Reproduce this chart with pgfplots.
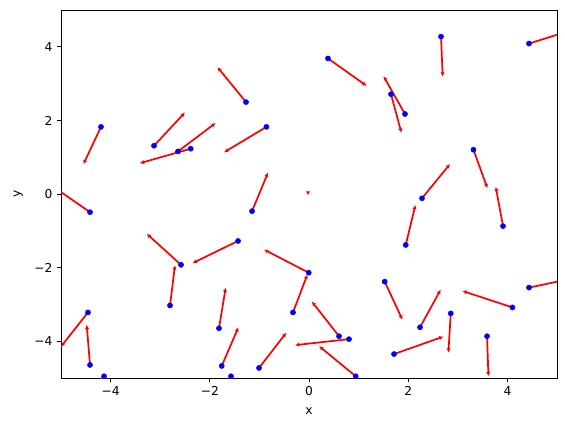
\documentclass[border=0pt]{standalone}
\usepackage{fontspec}
\setmainfont{DejaVu Sans}
\usepackage{pgfplots}
\usepackage{pgfplotstable}
\pgfplotsset{compat=1.18}
\usetikzlibrary{arrows.meta}
\pgfplotstableread{
x y u v
-4.194 1.825 -0.355 -1.016
-3.125 1.313 0.625 0.905
-2.641 1.159 0.760 0.774
-2.385 1.232 -1.028 -0.396
-1.270 2.499 -0.577 0.951
0.383 3.685 0.780 -0.747
-0.859 1.825 -0.855 -0.693
2.661 4.278 0.034 -1.089
4.435 4.089 1.004 0.426
1.653 2.714 0.210 -1.051
1.935 2.175 -0.435 1.032
3.315 1.205 0.282 -1.051
-4.415 -0.493 -0.796 0.744
-2.581 -1.922 -0.691 0.844
-1.431 -1.275 -0.919 -0.604
-2.802 -3.027 0.100 1.094
-4.456 -3.216 -0.550 -0.940
-4.415 -4.644 -0.067 1.094
-4.133 -4.951 -0.600 -0.900
-1.815 -3.647 0.135 1.105
-1.760 -4.671 0.337 1.051
-1.149 -0.466 0.323 1.051
-0.006 -2.137 -0.901 0.628
-0.323 -3.216 0.290 1.030
0.605 -3.863 -0.550 0.944
0.806 -3.943 -1.089 -0.162
0.942 -4.951 -0.740 0.819
-1.008 -4.725 0.552 0.960
-1.573 -4.951 -0.300 -1.050
1.526 -2.380 0.357 -1.035
2.278 -0.116 0.565 0.933
1.950 -1.383 0.195 1.087
3.911 -0.871 -0.147 1.068
4.435 -2.542 1.049 0.297
4.101 -3.081 -1.008 0.448
2.238 -3.620 0.417 1.024
2.857 -3.243 -0.047 -1.070
1.714 -4.348 0.996 0.475
3.589 -3.863 0.028 -1.089
}\pts
\pgfplotstableread{
x y u v
-0.02 0.06 0.0 -0.09
}\tinyarrow
\begin{document}
\begin{tikzpicture}
\begin{axis}[
  scale only axis,
  width=404.5pt, height=300.1pt,
  xmin=-5, xmax=5, ymin=-5, ymax=5,
  xtick={-4,-2,0,2,4}, xticklabels={−4,−2,0,2,4},
  ytick={-4,-2,0,2,4}, yticklabels={−4,−2,0,2,4},
  xtick pos=bottom, ytick pos=left,
  tick align=outside, major tick length=3.5pt,
  every tick/.style={black, line width=0.8pt},
  axis line style={line width=0.8pt},
  tick label style={font=\fontsize{10}{12}\selectfont},
  label style={font=\fontsize{10}{12}\selectfont},
  xlabel={x}, ylabel={y},
  xlabel style={yshift=-3pt},
  ylabel style={yshift=2.5pt},
  clip marker paths=true,
]
\addplot[red, line width=1.4pt, -{Latex[length=3.5pt,width=3.5pt]},
  quiver={u=\thisrow{u}, v=\thisrow{v}}] table[x=x,y=y] {\pts};
\addplot[red, line width=1.4pt, -{Latex[length=3pt,width=3.5pt]},
  quiver={u=\thisrow{u}, v=\thisrow{v}}] table[x=x,y=y] {\tinyarrow};
\addplot[only marks, mark=*, mark size=2.1pt, blue, mark options={draw=blue, fill=blue}] table[x=x,y=y] {\pts};
\end{axis}
\pgfresetboundingbox
\path (current axis.south west) +(-49.75pt,-44pt) (current axis.north east) +(6.5pt,8.2pt);
\end{tikzpicture}
\end{document}
